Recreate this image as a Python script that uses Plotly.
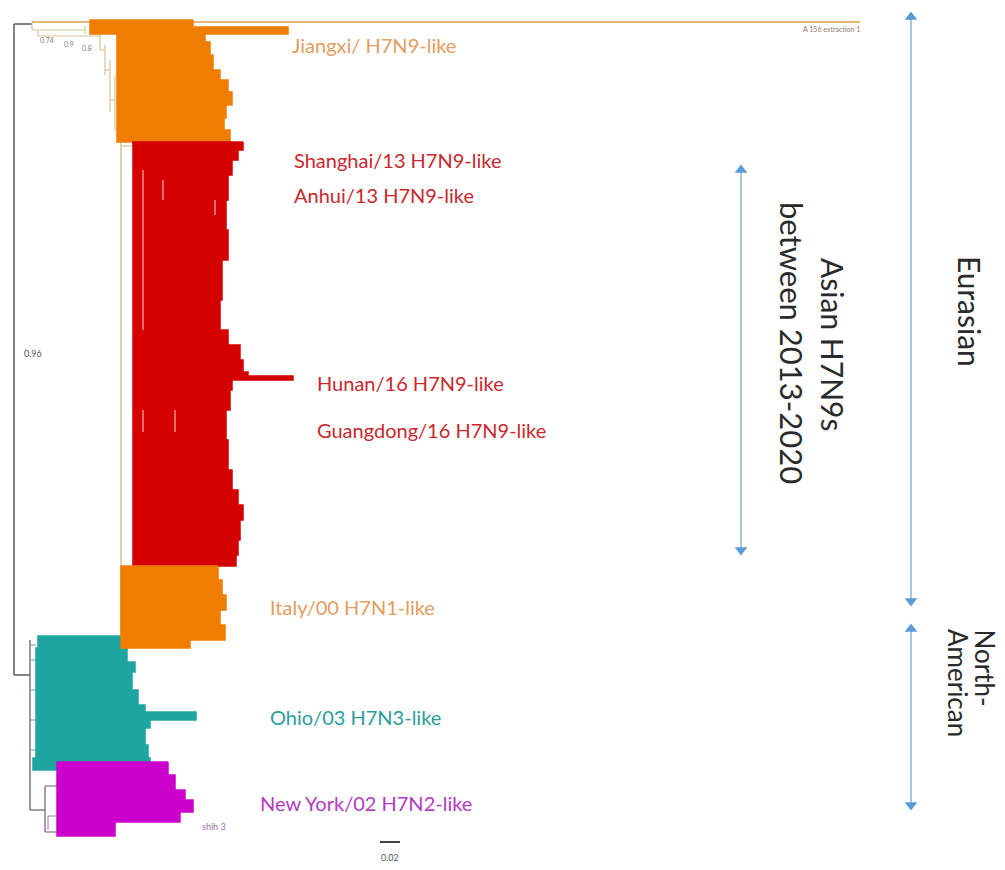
import plotly.graph_objects as go

# ---------------- data (distance from root in substitutions/site, rows = tip order) ----------------
jiangxi_rows = [20, 27, 34, 42, 55, 70, 80, 92, 105, 118, 130, 142]
jiangxi_base = [0.076, 0.076, 0.103, 0.103, 0.103, 0.103, 0.103, 0.103, 0.103, 0.103, 0.103]
jiangxi_tips = [0.179, 0.274, 0.191, 0.196, 0.199, 0.206, 0.214, 0.218, 0.212, 0.210, 0.216]

asian_rows = [142, 150, 160, 175, 200, 230, 260, 300, 330, 345, 360, 372, 376, 380, 390, 410,
              440, 470, 490, 505, 520, 540, 555, 566]
asian_base = [0.119] * 23
asian_tips = [0.229, 0.224, 0.218, 0.214, 0.212, 0.214, 0.208, 0.206, 0.214, 0.226, 0.229, 0.234,
              0.279, 0.218, 0.216, 0.212, 0.214, 0.218, 0.224, 0.229, 0.226, 0.224, 0.222]

italy_rows = [566, 580, 595, 610, 625, 640, 648]
italy_base = [0.107] * 6
italy_tips = [0.204, 0.208, 0.212, 0.206, 0.211, 0.176]

ohio_rows = [636, 648, 662, 672, 690, 705, 712, 720, 728, 745, 758, 770]
ohio_base = [0.024, 0.022, 0.022, 0.022, 0.022, 0.022, 0.022, 0.022, 0.022, 0.022, 0.019]
ohio_tips = [0.110, 0.113, 0.121, 0.118, 0.124, 0.131, 0.182, 0.136, 0.131, 0.134, 0.136]

ny_rows = [762, 775, 790, 800, 812, 822, 836]
ny_base = [0.043] * 6
ny_tips = [0.154, 0.161, 0.171, 0.179, 0.166, 0.101]

outlier_row = 22
outlier_tip = 0.846

clade_labels = ["Jiangxi/ H7N9-like", "Shanghai/13 H7N9-like", "Anhui/13 H7N9-like",
                "Hunan/16 H7N9-like", "Guangdong/16 H7N9-like", "Italy/00 H7N1-like",
                "Ohio/03 H7N3-like", "New York/02 H7N2-like"]
clade_label_rows = [45, 160, 195, 383, 430, 607, 717, 803]
clade_label_x = [0.276, 0.278, 0.278, 0.301, 0.301, 0.254, 0.254, 0.244]
clade_label_colors = ["#e39d5f", "#c8282e", "#c8282e", "#c8282e", "#c8282e", "#e39d5f",
                      "#2a9d9d", "#b03cc2"]

ORANGE = "#f07d00"
RED = "#d40000"
TEAL = "#1ea5a2"
MAGENTA = "#cc00cc"
TAN = "#d9c596"
GRAY = "#5a5a5a"
ARROW = "#5b9bd5"
SHAFT = "#a8c4df"


def px(x):
    return (x - 14) / 1000.0


def clade_polygon(rows, base, tips):
    xs, ys = [], []
    for i, t in enumerate(tips):
        xs += [t, t]
        ys += [rows[i], rows[i + 1]]
    for i in range(len(base) - 1, -1, -1):
        xs += [base[i], base[i]]
        ys += [rows[i + 1], rows[i]]
    xs.append(xs[0])
    ys.append(ys[0])
    return xs, ys


fig = go.Figure()


def seg(x0, y0, x1, y1, color, w=1.2):
    fig.add_trace(go.Scatter(x=[x0, x1], y=[y0, y1], mode="lines",
                             line=dict(color=color, width=w), hoverinfo="skip", showlegend=False))


# backbone of tree
seg(0, 24, 0, 675, GRAY, 1.5)
seg(0, 24, px(32), 24, GRAY, 1.5)
seg(0, 675, px(30), 675, GRAY, 1.5)
# Eurasian staircase (tan)
seg(px(32), 22, px(32), 30, TAN)
seg(px(32), outlier_row, outlier_tip, outlier_row, "#e0b777", 2)
seg(px(32), 30, px(85), 30, TAN)
seg(px(38), 30, px(38), 36, TAN)
seg(px(38), 36, px(100), 36, TAN)
seg(px(85), 26, px(85), 34, TAN)
seg(px(100), 33, px(100), 50, TAN)
seg(px(100), 50, px(105), 50, TAN)
seg(px(105), 45, px(105), 75, TAN)
seg(px(105), 70, px(110), 70, TAN)
seg(px(110), 60, px(110), 112, TAN)
seg(px(110), 100, px(115), 100, TAN)
seg(px(115), 75, px(115), 130, TAN)
seg(px(115), 130, px(121), 130, TAN)
seg(px(121), 130, px(121), 645, TAN, 1.6)
seg(px(121), 146, px(133), 146, TAN)
# North American backbone
seg(px(30), 640, px(30), 810, "#777777", 1.5)
for r in [645, 660, 690, 720, 750]:
    seg(px(30), r, px(36), r, "#8aa")
seg(px(30), 810, px(45), 810, "#777777", 1.4)
seg(px(45), 786, px(45), 832, "#8a6f8a", 1.4)
seg(px(45), 786, px(57), 786, "#8a6f8a", 1.2)
seg(px(45), 832, px(57), 832, "#8a6f8a", 1.2)
seg(px(48), 816, px(48), 830, "#9a7f9a", 1)
seg(px(48), 816, px(57), 816, "#9a7f9a", 1)

# clades
for rows, base, tips, col in [(ohio_rows, ohio_base, ohio_tips, TEAL),
                              (ny_rows, ny_base, ny_tips, MAGENTA),
                              (jiangxi_rows, jiangxi_base, jiangxi_tips, ORANGE),
                              (asian_rows, asian_base, asian_tips, RED),
                              (italy_rows, italy_base, italy_tips, ORANGE)]:
    xs, ys = clade_polygon(rows, base, tips)
    fig.add_trace(go.Scatter(x=xs, y=ys, mode="lines", fill="toself", fillcolor=col,
                             line=dict(color=col, width=1.5), hoverinfo="skip", showlegend=False))

# white speckles inside Asian clade
for (x, y0, y1) in [(143, 170, 330), (143, 410, 432), (163, 180, 200), (175, 410, 432), (215, 200, 215)]:
    seg(px(x), y0, px(x), y1, "rgba(255,255,255,0.7)", 1.2)

FONT = "Lato"
annotations = []
for lab, r, x, c in zip(clade_labels, clade_label_rows, clade_label_x, clade_label_colors):
    annotations.append(dict(x=x, y=r, text=lab, showarrow=False, xanchor="left", yanchor="middle",
                            font=dict(family=FONT, size=20, color=c)))

DARK = "#2a2a2a"
annotations += [
    dict(x=px(862), y=29, text="A 156 extraction 1", showarrow=False, xanchor="right", yanchor="middle",
         font=dict(family=FONT, size=7, color="#8a7a6a")),
    dict(x=px(22), y=353, text="0.96", showarrow=False, xanchor="left", yanchor="middle",
         font=dict(family=FONT, size=9, color="#555555")),
    dict(x=px(390), y=857, text="0.02", showarrow=False, xanchor="center", yanchor="middle",
         font=dict(family=FONT, size=9, color="#555555")),
    dict(x=px(228), y=826, text="shih 3", showarrow=False, xanchor="right", yanchor="middle",
         font=dict(family=FONT, size=9, color="#9a6aa8")),
    dict(x=px(38), y=40, text="0.74", showarrow=False, xanchor="left", yanchor="middle",
         font=dict(family=FONT, size=7, color="#8a7a6a")),
    dict(x=px(62), y=44, text="0.9", showarrow=False, xanchor="left", yanchor="middle",
         font=dict(family=FONT, size=7, color="#8a7a6a")),
    dict(x=px(80), y=48, text="0.8", showarrow=False, xanchor="left", yanchor="middle",
         font=dict(family=FONT, size=7, color="#8a7a6a")),
    dict(x=px(970), y=311, text="Eurasian", showarrow=False, textangle=90,
         font=dict(family=FONT, size=30, color=DARK)),
    dict(x=px(833), y=344, text="Asian H7N9s", showarrow=False, textangle=90,
         font=dict(family=FONT, size=30, color=DARK)),
    dict(x=px(792), y=343, text="between 2013-2020", showarrow=False, textangle=90,
         font=dict(family=FONT, size=31, color=DARK)),
    dict(x=px(985), y=627, text="North-", showarrow=False, textangle=90, yanchor="top",
         font=dict(family=FONT, size=26, color=DARK)),
    dict(x=px(958), y=627, text="American", showarrow=False, textangle=90, yanchor="top",
         font=dict(family=FONT, size=26, color=DARK)),
]

# scale bar
seg(px(380), 842, px(400), 842, "#444444", 2)

# arrows
for xa, top, bot in [(911, 12, 606), (911, 624, 810), (741, 165, 555)]:
    seg(px(xa), top + 6, px(xa), bot - 6, SHAFT, 2)
    fig.add_trace(go.Scatter(x=[px(xa), px(xa)], y=[top + 5, bot - 5], mode="markers",
                             marker=dict(symbol=["triangle-up", "triangle-down"], size=11, color=ARROW),
                             hoverinfo="skip", showlegend=False))

fig.update_layout(
    width=1005, height=870, margin=dict(l=0, r=0, t=0, b=0),
    paper_bgcolor="white", plot_bgcolor="white",
    xaxis=dict(range=[px(0), px(1005)], visible=False, fixedrange=True),
    yaxis=dict(range=[870, 0], visible=False, fixedrange=True),
    annotations=annotations, showlegend=False,
)
fig.write_html("out.html", config={"displayModeBar": False},
               post_script="document.body.style.margin='0';")
